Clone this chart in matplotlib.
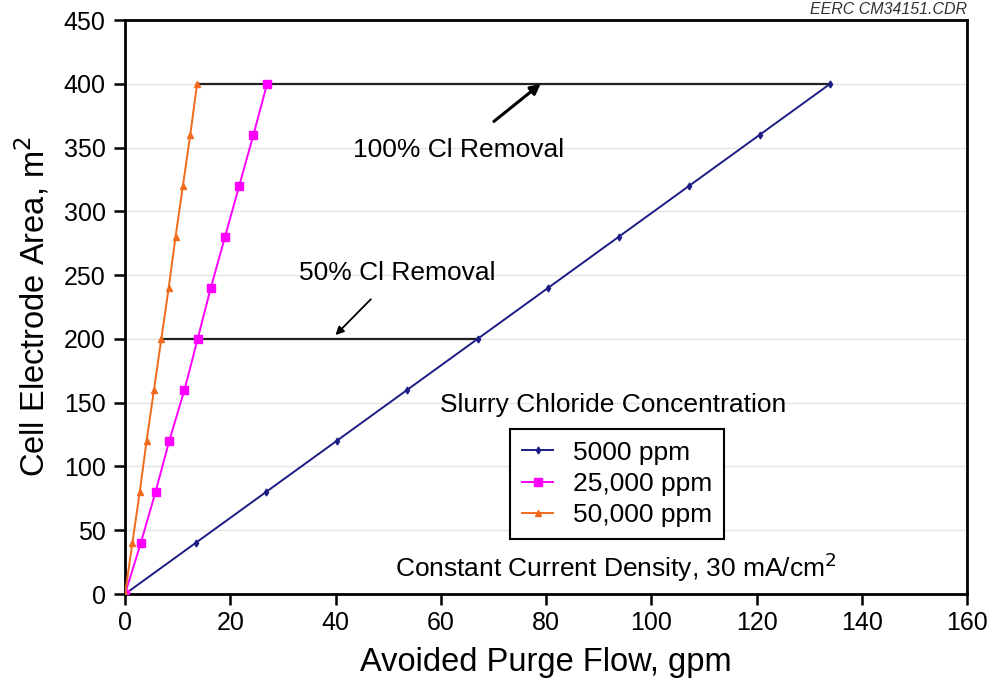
import matplotlib.pyplot as plt

plt.rcParams['font.family'] = ['Liberation Sans', 'DejaVu Sans']

# Cell electrode area, m2
area = [0, 40, 80, 120, 160, 200, 240, 280, 320, 360, 400]
# Avoided purge flow, gpm
flow_5000 = [0, 13.4, 26.8, 40.2, 53.6, 67.0, 80.4, 93.8, 107.2, 120.6, 134.0]
flow_25000 = [0, 3.0, 5.8, 8.4, 11.3, 13.8, 16.3, 19.0, 21.7, 24.4, 27.0]
flow_50000 = [0, 1.4, 2.8, 4.1, 5.5, 6.9, 8.3, 9.6, 11.0, 12.4, 13.7]

# removal lines: (area, x start, x end)
removal_50 = (200, 6.9, 67.0)
removal_100 = (400, 13.7, 134.0)

fig = plt.figure(figsize=(9.89, 6.85), dpi=100)
ax = fig.add_axes([0.1264, 0.1328, 0.8514, 0.838])

ax.grid(axis='y', color='#e4e4e4', linewidth=1)
ax.set_axisbelow(True)

ax.plot([removal_50[1], removal_50[2]], [removal_50[0]] * 2, color='#222222', lw=1.6, zorder=2)
ax.plot([removal_100[1], removal_100[2]], [removal_100[0]] * 2, color='#222222', lw=1.6, zorder=2)

ax.plot(flow_5000, area, color='#1c1c84', lw=1.4, marker='d', ms=3.5, label='5000 ppm', zorder=3)
ax.plot(flow_25000, area, color='#ff00ff', lw=1.4, marker='s', ms=6, label='25,000 ppm', zorder=3)
ax.plot(flow_50000, area, color='#f26a1b', lw=1.4, marker='^', ms=4.5, label='50,000 ppm', zorder=4)

ax.set_xlim(0, 160)
ax.set_ylim(0, 450)
ax.set_xticks(range(0, 161, 20))
ax.set_yticks(range(0, 451, 50))
ax.tick_params(labelsize=18, width=1.8, length=8, direction='out', pad=6)
ax.tick_params(axis='x', pad=4)
for s in ax.spines.values():
    s.set_linewidth(2)

ax.set_xlabel('Avoided Purge Flow, gpm', fontsize=23.5, labelpad=9)
ax.set_ylabel('Cell Electrode Area, m$^2$', fontsize=23.5, labelpad=9)

ax.annotate('100% Cl Removal', xy=(79, 400), xytext=(63.3, 348), fontsize=19,
            ha='center', va='center',
            arrowprops=dict(arrowstyle='-|>', color='black', lw=2.2, mutation_scale=15,
                            shrinkA=16, shrinkB=0))
ax.annotate('50% Cl Removal', xy=(40, 203), xytext=(51.7, 252), fontsize=19,
            ha='center', va='center',
            arrowprops=dict(arrowstyle='-|>', color='black', lw=1.3, mutation_scale=12,
                            shrinkA=12, shrinkB=0))

ax.text(92.8, 148, 'Slurry Chloride Concentration', fontsize=19, ha='center', va='center')
ax.text(93.2, 21, 'Constant Current Density, 30 mA/cm$^2$', fontsize=19, ha='center', va='center')

leg = ax.legend(loc='upper left', bbox_to_anchor=(0.457, 0.288), fontsize=19,
                fancybox=False, framealpha=1, edgecolor='black', handlelength=1.2,
                borderpad=0.45, labelspacing=0.28, handletextpad=0.75, borderaxespad=0)
leg.get_frame().set_linewidth(1.5)

fig.text(0.978, 0.975, 'EERC CM34151.CDR', fontsize=11.5, style='italic', color='#333333',
         ha='right', va='bottom')

fig.savefig('out.png', dpi=100)
